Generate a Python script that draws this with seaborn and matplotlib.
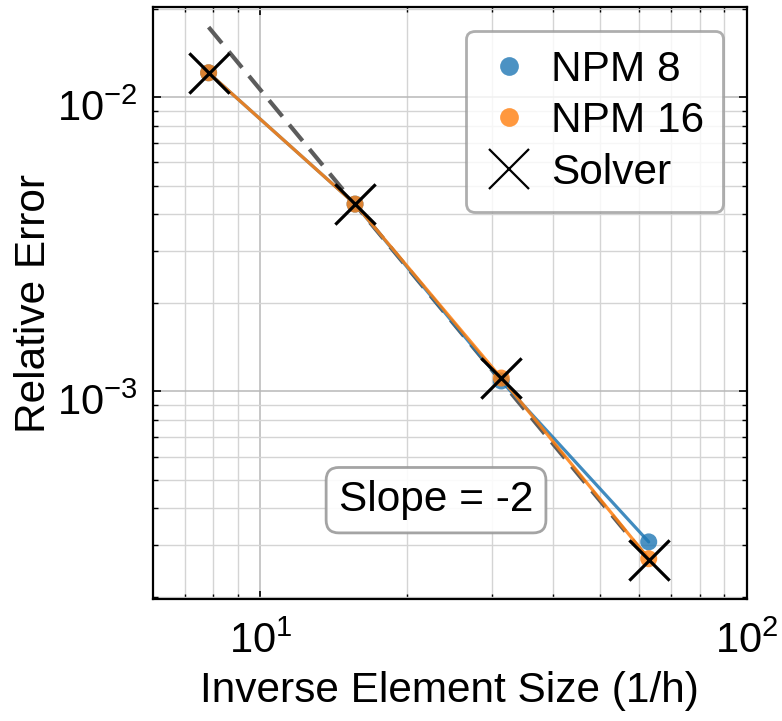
import numpy as np
import pandas as pd
import matplotlib
matplotlib.use("Agg")
import matplotlib.pyplot as plt
import matplotlib.transforms as mtransforms
import seaborn as sns
from matplotlib.lines import Line2D

# Convergence data: inverse element size vs. relative error
inv_h = [7.83, 15.66, 31.3, 62.9]
err_npm8 = [0.0121, 4.33e-3, 1.085e-3, 3.08e-4]
err_npm16 = [0.0121, 4.33e-3, 1.11e-3, 2.70e-4]
err_solver = [0.0121, 4.33e-3, 1.11e-3, 2.68e-4]
ref_slope = -2

series_labels = ["NPM 8", "NPM 16"]
blue = "#1f77b4"
orange = "#ff7f0e"

sns.set_style("ticks")
plt.rcParams["font.family"] = ["Liberation Sans", "DejaVu Sans"]
plt.rcParams["mathtext.fontset"] = "custom"
plt.rcParams["mathtext.rm"] = "Liberation Sans"
plt.rcParams["mathtext.it"] = "Liberation Sans:italic"
plt.rcParams["mathtext.bf"] = "Liberation Sans:bold"
for key in ["text.color", "axes.labelcolor", "xtick.color", "ytick.color",
            "axes.edgecolor"]:
    plt.rcParams[key] = "black"

df = pd.DataFrame({
    "inv_h": inv_h * 2,
    "err": err_npm8 + err_npm16,
    "model": [series_labels[0]] * len(inv_h) + [series_labels[1]] * len(inv_h),
})
df_solver = pd.DataFrame({"inv_h": inv_h, "err": err_solver})

fig = plt.figure(figsize=(7.82, 7.21), dpi=100)
ax = fig.add_axes([0.1953, 0.1692, 0.7595, 0.8207])

# slope reference line anchored on the finest solver result
x_ref = np.array([inv_h[0], inv_h[-1]])
y_ref = err_solver[-1] * (x_ref / inv_h[-1]) ** ref_slope
ax.plot(x_ref, y_ref, color="#5c5c5c", lw=3.0, dashes=(5, 2.6), zorder=2)

sns.lineplot(data=df, x="inv_h", y="err", hue="model",
             palette=[blue, orange], lw=2.3, alpha=0.85, legend=False,
             ax=ax, zorder=3, sort=False)
sns.scatterplot(data=df, x="inv_h", y="err", hue="model",
                palette=[blue, orange], s=150, alpha=0.8, linewidth=0,
                legend=False, ax=ax, zorder=4)
sns.scatterplot(data=df_solver, x="inv_h", y="err", marker="x",
                color="black", s=29 ** 2, linewidth=2.3, legend=False,
                ax=ax, zorder=5)

ax.set_xscale("log")
ax.set_yscale("log")
ax.set_xlim(6.01, 100)
ax.set_ylim(1.97e-4, 0.0202)

ax.grid(True, which="major", color="#b8b8b8", lw=1.1)
ax.grid(True, which="minor", color="#d4d4d4", lw=1.0)
ax.set_axisbelow(True)

for side in ["top", "right", "bottom", "left"]:
    ax.spines[side].set_visible(True)
    ax.spines[side].set_color("black")
    ax.spines[side].set_linewidth(1.6)

ax.tick_params(which="both", direction="in", top=True, right=True,
               color="black")
ax.tick_params(which="major", length=6, width=1.2, labelsize=30)
ax.tick_params(which="minor", length=3.5, width=1.0)
ax.tick_params(axis="x", which="major", pad=6)
ax.tick_params(axis="y", which="major", pad=11)

# nudge the power-of-ten labels so the mantissa sits below the tick
fig.canvas.draw()
shift_y = mtransforms.ScaledTranslation(0, -6 / 72, fig.dpi_scale_trans)
shift_x = mtransforms.ScaledTranslation(0, -10 / 72, fig.dpi_scale_trans)
for lab in ax.get_yticklabels():
    lab.set_transform(lab.get_transform() + shift_y)
for lab in ax.get_xticklabels():
    lab.set_transform(lab.get_transform() + shift_x)

ax.set_xlabel("Inverse Element Size (1/h)", fontsize=30.5, labelpad=7)
ax.set_ylabel("Relative Error", fontsize=30.5, labelpad=2)

handles = [
    Line2D([], [], ls="none", marker="o", ms=13.5, color=blue, alpha=0.8,
           mew=0),
    Line2D([], [], ls="none", marker="o", ms=13.5, color=orange, alpha=0.8,
           mew=0),
    Line2D([], [], ls="none", marker="x", ms=29, color="black", mew=1.6),
]
leg = ax.legend(handles, series_labels + ["Solver"], loc="upper right",
                fontsize=30.5, frameon=True, fancybox=True, framealpha=0.8,
                labelspacing=0.27, handletextpad=0.42, borderpad=0.45,
                borderaxespad=0.55, handlelength=1.13)
leg.get_frame().set_edgecolor("#9a9a9a")
leg.get_frame().set_linewidth(2.0)

ax.text(0.477, 0.167, "Slope = -2", transform=ax.transAxes, fontsize=30.5,
        ha="center", va="center",
        bbox=dict(boxstyle="round,pad=0.3", fc="white", ec="#9a9a9a",
                  lw=2.0, alpha=0.9))

fig.savefig("out.png", dpi=100)
